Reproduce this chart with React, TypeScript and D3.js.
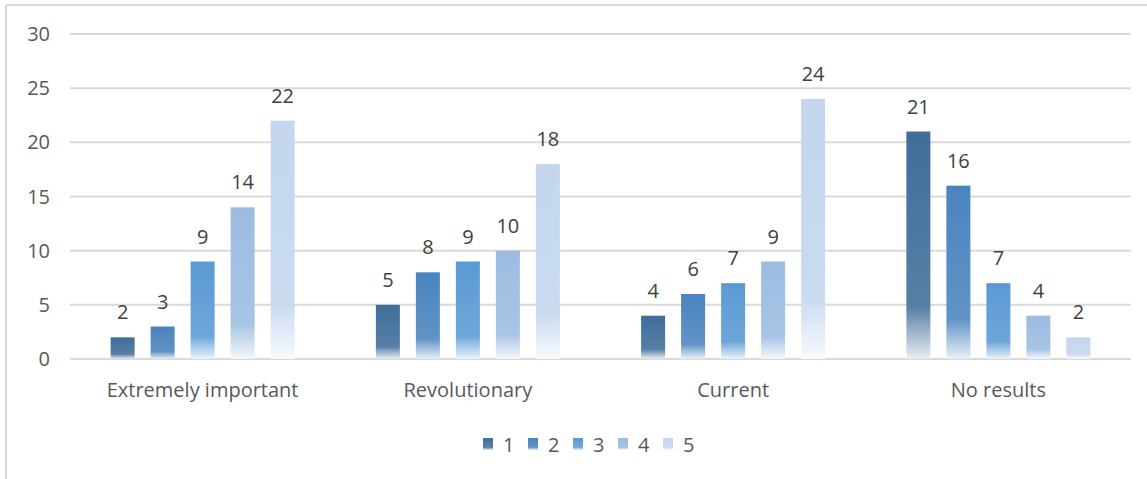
import React from "react";
import * as d3 from "d3";

const categories = ["Extremely important", "Revolutionary", "Current", "No results"];
const seriesNames = ["1", "2", "3", "4", "5"];
const series1 = [2, 5, 4, 21];
const series2 = [3, 8, 6, 16];
const series3 = [9, 9, 7, 7];
const series4 = [14, 10, 9, 4];
const series5 = [22, 18, 24, 2];
const yTicks = [0, 5, 10, 15, 20, 25, 30];
const colors = ["#3F6E9A", "#4A84BE", "#5A9AD4", "#9CBCE2", "#C3D6EE"];

const allSeries = [series1, series2, series3, series4, series5];

const W = 1147;
const H = 479;
const left = 70;
const right = 1131;
const top = 34;
const bottom = 359;

const FONT = "'Open Sans', 'Noto Sans', sans-serif";
const FS = 20;

export default function App() {
  const x = d3.scaleBand<string>().domain(categories).range([left, right]).paddingInner(0).paddingOuter(0);
  const xi = d3.scaleBand<string>().domain(seriesNames).range([-100, 100]).paddingInner(0.4).paddingOuter(0.2);
  const y = d3.scaleLinear().domain([0, 30]).range([bottom, top]);
  const mix = (c: string, t: number) => d3.interpolateRgb(c, "#ffffff")(t);

  return (
    <svg width={W} height={H} style={{ position: "absolute", left: 0, top: 0, background: "#fff" }}>
      <defs>
        {colors.map((c, i) => (
          <linearGradient key={i} id={`g${i}`} x1={0} x2={0} y1={0} y2={1}>
            <stop offset="0" stopColor={c} />
            <stop offset="0.77" stopColor={mix(c, 0.12)} />
            <stop offset="1" stopColor={mix(c, 0.88)} />
          </linearGradient>
        ))}
      </defs>
      <line x1={6} x2={6} y1={5} y2={H} stroke="#d9d9d9" strokeWidth={2} />
      <line x1={6} x2={W} y1={5} y2={5} stroke="#d9d9d9" strokeWidth={2} />
      {yTicks.map((t) => (
        <g key={t}>
          <line x1={left} x2={right} y1={y(t)} y2={y(t)} stroke="#d9d9d9" strokeWidth={2} />
          <text x={50} y={y(t) + 7} textAnchor="end" fontFamily={FONT} fontSize={FS} fill="#595959">
            {t}
          </text>
        </g>
      ))}
      {categories.map((cat, ci) => {
        const cx = (x(cat) as number) + x.bandwidth() / 2;
        return (
          <g key={cat}>
            {allSeries.map((s, si) => {
              const bx = cx + (xi(seriesNames[si]) as number);
              const v = s[ci];
              return (
                <g key={si}>
                  <rect x={bx} width={xi.bandwidth()} y={y(v)} height={y(0) - y(v)} fill={`url(#g${si})`} />
                  <text x={bx + xi.bandwidth() / 2} y={y(v) - 18} textAnchor="middle" fontFamily={FONT} fontSize={FS} fill="#404040">
                    {v}
                  </text>
                </g>
              );
            })}
            <text x={cx} y={397} textAnchor="middle" fontFamily={FONT} fontSize={FS} fill="#595959">
              {cat}
            </text>
          </g>
        );
      })}
      {seriesNames.map((n, i) => (
        <g key={n} transform={`translate(${483 + i * 45},438)`}>
          <rect x={0} y={0} width={10} height={12} fill={`url(#g${i})`} />
          <text x={20} y={14} fontFamily={FONT} fontSize={FS} fill="#595959">
            {n}
          </text>
        </g>
      ))}
    </svg>
  );
}
